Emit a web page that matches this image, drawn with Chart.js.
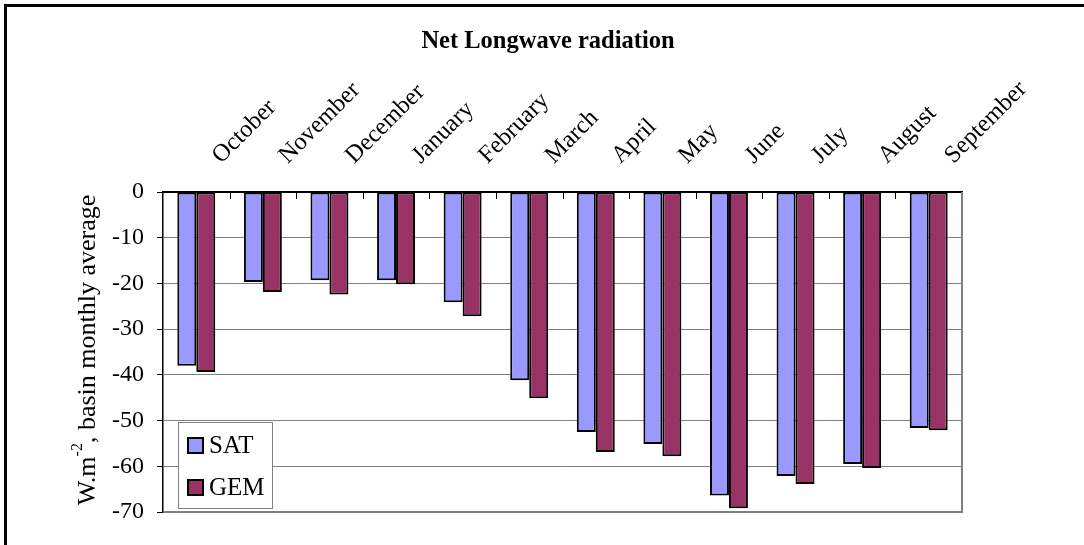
<!DOCTYPE html>
<html>
<head>
<meta charset="utf-8">
<script src="https://cdn.jsdelivr.net/npm/chart.js@4/dist/chart.umd.min.js"></script>
<style>
  html, body { margin: 0; padding: 0; background: #fff; }
</style>
</head>
<body>
<canvas id="lwChart" width="1084" height="545"></canvas>
<script>
const months = ["October", "November", "December", "January", "February", "March",
  "April", "May", "June", "July", "August", "September"];
const satValues = [-38.0, -19.7, -19.3, -19.3, -24.1, -41.2, -52.5, -55.1, -66.4, -62.1, -59.5, -51.6];
const gemValues = [-39.4, -21.9, -22.4, -20.2, -27.2, -45.1, -56.9, -57.8, -69.2, -63.9, -60.4, -52.1];
const yTicks = [0, -10, -20, -30, -40, -50, -60, -70];

const serif = "'Liberation Serif', 'Times New Roman', serif";

// frame, title, axis title, inner ticks, right/bottom border, legend
const decor = {
  id: "decor",
  beforeDraw(chart) {
    const c = chart.ctx;
    c.save();
    c.fillStyle = "#fff";
    c.fillRect(0, 0, chart.width, chart.height);
    c.fillStyle = "#000";
    c.fillRect(4, 4, chart.width - 4, 3);
    c.fillRect(4, 4, 3, chart.height - 4);
    c.restore();
  },
  afterDraw(chart) {
    const c = chart.ctx;
    const a = chart.chartArea;
    const x = chart.scales.x;
    c.save();

    // plot border right / bottom
    c.strokeStyle = "#808080";
    c.lineWidth = 2;
    c.beginPath();
    c.moveTo(a.right, a.top);
    c.lineTo(a.right, a.bottom);
    c.lineTo(a.left, a.bottom);
    c.stroke();

    // small tick marks between categories, pointing into the plot
    c.strokeStyle = "#000";
    c.lineWidth = 1;
    for (let i = 0; i < months.length - 1; i++) {
      const px = Math.round((x.getPixelForValue(i) + x.getPixelForValue(i + 1)) / 2) + 0.5;
      c.beginPath();
      c.moveTo(px, a.top);
      c.lineTo(px, a.top + 7);
      c.stroke();
    }

    // title
    c.fillStyle = "#000";
    c.font = "bold 24.5px " + serif;
    c.textAlign = "center";
    c.textBaseline = "middle";
    c.fillText("Net Longwave radiation", 548, 42);

    // y axis title with superscript
    c.translate(88, 350);
    c.rotate(-Math.PI / 2);
    c.textBaseline = "middle";
    const p1 = "W.m", sup = "-2", p2 = ", basin monthly average";
    c.font = "26px " + serif;
    const w1 = c.measureText(p1).width, w3 = c.measureText(p2).width;
    c.font = "16px " + serif;
    const w2 = c.measureText(sup).width;
    let sx = -(w1 + w2 + w3) / 2;
    c.textAlign = "left";
    c.font = "26px " + serif;
    c.fillText(p1, sx, 0);
    c.font = "16px " + serif;
    c.fillText(sup, sx + w1, -10);
    c.font = "26px " + serif;
    c.fillText(p2, sx + w1 + w2, 0);
    c.setTransform(1, 0, 0, 1, 0, 0);

    // legend
    const lx = 178, ly = 422, lw = 94, lh = 86;
    c.fillStyle = "#fff";
    c.fillRect(lx, ly, lw, lh);
    c.strokeStyle = "#808080";
    c.lineWidth = 1;
    c.strokeRect(lx + 0.5, ly + 0.5, lw, lh);
    chart.data.datasets.forEach((ds, i) => {
      const ry = ly + 16 + i * 42;
      c.fillStyle = ds.backgroundColor;
      c.fillRect(lx + 10, ry, 15, 15);
      c.strokeStyle = "#000";
      c.lineWidth = 2;
      c.strokeRect(lx + 10, ry, 15, 15);
      c.fillStyle = "#000";
      c.font = "25px " + serif;
      c.textAlign = "left";
      c.textBaseline = "middle";
      c.fillText(ds.label, lx + 31, ry + 8);
    });
    c.restore();
  }
};

new Chart(document.getElementById("lwChart"), {
  type: "bar",
  data: {
    labels: months,
    datasets: [
      { label: "SAT", data: satValues, backgroundColor: "#9999FF", borderColor: "#000", borderWidth: 2, borderSkipped: false },
      { label: "GEM", data: gemValues, backgroundColor: "#993366", borderColor: "#000", borderWidth: 2, borderSkipped: false }
    ]
  },
  options: {
    responsive: false,
    animation: false,
    devicePixelRatio: 1,
    layout: { padding: { left: 0, right: 122, top: 0, bottom: 33 } },
    datasets: { bar: { categoryPercentage: 0.57, barPercentage: 1.0 } },
    plugins: {
      legend: { display: false },
      title: { display: false },
      tooltip: { enabled: false }
    },
    scales: {
      x: {
        position: "top",
        offset: true,
        afterFit: s => { s.height = 192; },
        grid: { display: false, drawTicks: false },
        border: { display: true, color: "#000", width: 2 },
        ticks: {
          color: "#000",
          font: { family: serif, size: 24.5 },
          minRotation: 45,
          maxRotation: 45,
          padding: 22,
          labelOffset: 41,
          autoSkip: false
        }
      },
      y: {
        min: -70,
        max: 0,
        afterFit: s => { s.width = 163; },
        afterBuildTicks: s => { s.ticks = yTicks.map(v => ({ value: v })); },
        grid: { color: "#808080", lineWidth: 1, tickColor: "#000", tickLength: 6 },
        border: { display: true, color: "#000", width: 1.5 },
        ticks: {
          color: "#000",
          font: { family: serif, size: 24 },
          padding: 13
        }
      }
    }
  },
  plugins: [decor]
});
</script>
</body>
</html>
